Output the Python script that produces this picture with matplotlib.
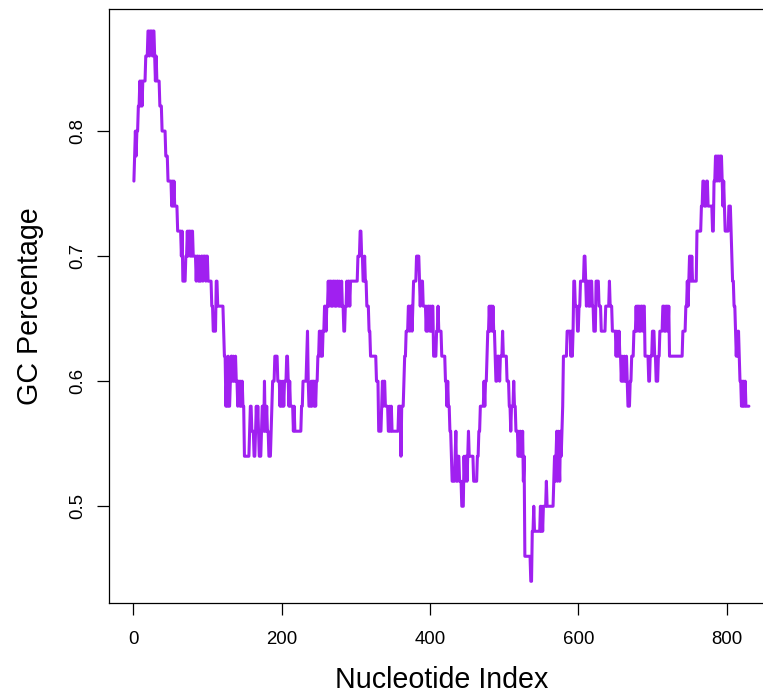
import numpy as np
import matplotlib
matplotlib.use("Agg")
import matplotlib.pyplot as plt

# GC count in a sliding window of 50 nt, written as (count, run length) steps
window = 50
seg_001_103 = [(38,1),
               (39,1),(40,1),(39,1),(40,2),
               (41,2),(42,1),(41,1),
               (42,1),(41,1),(42,4),
               (43,3),
               (44,2),(43,1),(44,3),(43,1),(44,2),
               (43,1),(42,1),(43,1),
               (42,4),(41,3),(40,5),(39,3),(38,5),
               (37,1),(38,1),(37,1),(38,1),
               (37,4),
               (36,5),(35,1),(36,1),
               (34,4),(35,2),
               (36,1),(35,1),(36,2),(35,1),(36,1),(35,1),(36,1),(35,2),
               (35,2),(34,1),(35,2),(34,1),(35,1),(34,2),(35,2),(34,1),(35,3),(34,1),(35,2),(34,3)]
seg_104_225 = [(34,2),(33,2),(32,4),(34,2),(33,8),
               (32,1),(31,2),
               (29,1),(30,1),(29,1),(31,1),(29,2),(30,1),
               (31,2),
               (30,1),(31,1),(30,2),
               (31,1),
               (30,2),(29,1),(30,2),(29,1),(30,1),(29,1),(30,1),
               (29,2),(27,7),(28,1),(29,2),(28,3),(27,2),
               (28,1),(29,1),(28,1),(29,1),(28,1),
               (27,3),(28,1),(29,2),(28,1),(30,1),
               (28,2),(29,1),(28,2),
               (27,3),(28,1),(29,1),(30,3),(31,4),(30,3),
               (29,1),(30,1),(29,2),(30,1),(29,1),
               (30,3),(31,2),(30,1),
               (29,1),(30,1),(29,2),
               (29,2),(28,1),(29,1),(28,8)]
seg_226_345 = [(28,1),(29,2),(30,5),
               (31,1),(32,1),(30,1),(29,3),
               (30,1),(29,1),(30,2),(29,1),(30,1),(29,1),(30,2),
               (31,2),
               (32,2),(31,1),(32,1),(31,1),(32,2),
               (33,2),(32,1),(33,2),
               (34,1),(33,1),(34,2),(33,1),(34,1),(33,1),(34,2),(33,1),
               (34,1),(33,1),(34,2),(33,1),(34,1),(33,2),(34,1),(33,1),
               (33,1),(32,2),(33,1),
               (33,1),(34,1),(33,1),(34,2),(33,1),(34,4),
               (34,6),(35,3),(36,2),(35,2),
               (34,2),(35,1),(34,2),
               (33,3),(32,2),(31,8),(30,3),(28,4),
               (29,1),(30,1),(29,1),(30,2),(29,1),
               (29,3),(28,2)]
seg_346_460 = [(29,1),(28,1),(29,1),(28,1),
               (28,8),(29,3),(27,1),(29,3),
               (30,1),(31,2),(32,3),
               (33,2),(32,1),(33,2),(32,1),(33,1),
               (34,4),(35,4),
               (34,1),(33,1),(34,3),
               (33,3),
               (33,1),(32,1),(33,1),(32,1),(33,2),(32,1),(33,1),(32,1),(33,2),
               (31,4),
               (32,2),(33,1),(32,1),
               (32,3),(31,5),
               (30,2),(29,1),(30,1),
               (29,2),(28,2),(27,1),(26,1),
               (26,3),(27,1),(28,1),(26,2),
               (27,2),(26,3),(25,3),
               (27,1),(26,1),(27,2),(26,1),
               (27,1),(28,1),(27,2),
               (27,4),(26,2)]
seg_461_578 = [(26,3),(27,2),(28,2),(29,5),
               (30,1),(29,1),(30,2),
               (31,1),(32,2),
               (33,1),(32,1),(33,2),(32,1),(33,1),
               (32,2),
               (31,1),(30,2),(31,2),
               (31,1),(30,1),(31,3),
               (32,1),(31,5),(30,3),
               (29,2),(28,1),(29,3),(30,1),(29,2),
               (28,3),
               (27,1),(28,1),(27,1),(28,1),(27,2),(28,1),
               (26,1),(27,1),
               (23,8),(22,2),(24,2),(25,1),(24,8),
               (25,1),(24,1),(25,1),(24,1),(25,2),
               (25,2),(26,1),(25,9),
               (26,1),(27,1),(26,1),(27,1),
               (28,1),(26,1),(28,1),(27,1),
               (26,1),(28,1),(27,1),(28,1)]
seg_579_691 = [(29,1),(31,5),(32,5),
               (31,1),(32,1),(31,1),
               (32,1),(34,2),(33,3),(32,2),(33,2),(34,5),(35,2),
               (34,1),(33,1),(34,2),(33,1),(34,1),(33,1),(34,2),(33,2),
               (32,3),(34,4),(33,3),(32,6),(33,5),(34,1),(33,3),(32,5),
               (31,1),(32,1),(31,2),(32,1),(31,2),
               (30,1),(31,1),(30,2),(31,1),(30,2),(31,1),(30,1),
               (29,3),(30,2),(31,3),(32,3),
               (33,1),(32,1),(33,2),(32,1),(33,1),(32,1),(33,2),(32,1),(33,2),
               (31,2)]
seg_692_830 = [(31,3),(30,2),(31,3),(32,3),(31,2),(30,3),(31,2),(32,4),
               (33,2),(32,1),(33,1),(32,1),(33,2),(32,1),(33,1),
               (31,18),(32,4),(33,2),
               (34,1),(33,1),(34,1),
               (35,2),(34,1),(35,1),
               (34,6),(36,6),
               (37,2),(38,2),(37,3),(38,2),(37,1),
               (37,5),(36,2),(38,2),
               (39,2),(38,1),(39,2),(38,1),(39,3),
               (38,1),(37,1),(38,1),(37,1),
               (36,5),(37,3),(36,1),(35,1),(34,2),(33,2),(32,1),
               (31,1),(32,1),(31,1),(32,1),(31,1),
               (30,2),
               (29,1),(30,1),(29,1),(30,1),(29,1),(30,1),
               (29,5)]

x_ticks = [0, 200, 400, 600, 800]
y_ticks = [0.5, 0.6, 0.7, 0.8]
x_label = "Nucleotide Index"
y_label = "GC Percentage"

segments = (seg_001_103 + seg_104_225 + seg_226_345 + seg_346_460 +
            seg_461_578 + seg_579_691 + seg_692_830)
counts = np.array([c for c, r in segments])
runs = np.array([r for c, r in segments])
gc = np.repeat(counts, runs) / window
idx = np.arange(1, len(gc) + 1)

plt.rcParams["font.family"] = ["Liberation Sans", "DejaVu Sans"]

W, H = 763, 694
fig = plt.figure(figsize=(W / 100, H / 100), dpi=100)
left_px, right_px, top_px, bot_px = 109.3, 773.5, 9.0, 603.3
ax = fig.add_axes([left_px / W, 1 - bot_px / H,
                   (right_px - left_px) / W, (bot_px - top_px) / H])

ax.plot(idx, gc, color="#A020F0", lw=2.2,
        solid_joinstyle="round", solid_capstyle="round")

xr = idx.max() - idx.min()
ax.set_xlim(idx.min() - 0.04 * xr, idx.max() + 0.04 * xr)
yr = gc.max() - gc.min()
ax.set_ylim(gc.min() - 0.04 * yr, gc.max() + 0.04 * yr)

ax.set_xticks(x_ticks)
ax.set_xticklabels([str(t) for t in x_ticks])
ax.set_yticks(y_ticks)
ax.set_yticklabels([f"{t:g}" for t in y_ticks], rotation=90, va="center")

for s in ax.spines.values():
    s.set_linewidth(0.9)
    s.set_color("black")
ax.tick_params(axis="both", direction="out", length=8.6, width=0.9,
               labelsize=13.4, colors="black")
ax.tick_params(axis="x", pad=11.0)
ax.tick_params(axis="y", pad=8.0)

fig.text(441.4 / W, 1 - 688 / H, x_label, ha="center", va="baseline",
         fontsize=20.6)
fig.text(30 / W, 1 - 306 / H, y_label, ha="center", va="center",
         rotation=90, fontsize=20.6)

fig.savefig("out.png", dpi=100)
